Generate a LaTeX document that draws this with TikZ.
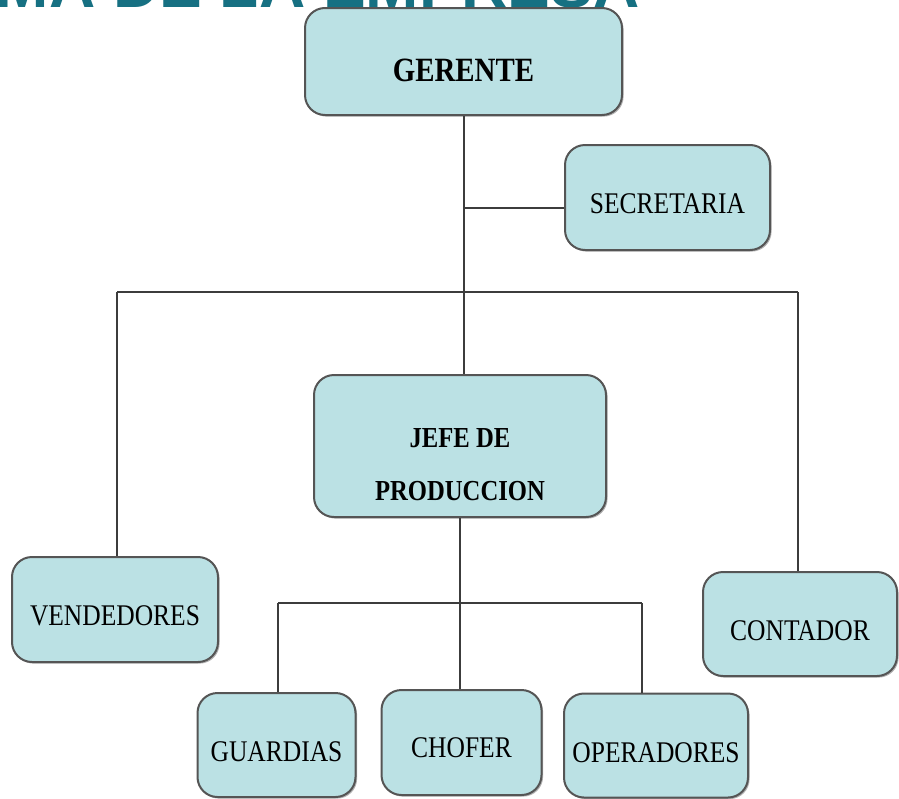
\documentclass[tikz,border=0pt]{standalone}
\usepackage{fontspec}
\setmainfont{Liberation Serif}[FakeStretch=0.85]
\newfontfamily\titlefont{Liberation Sans}
\usetikzlibrary{shadows,calc}
\definecolor{boxfill}{RGB}{187,225,228}
\definecolor{boxline}{RGB}{85,85,85}
\definecolor{linkline}{RGB}{60,60,60}
\definecolor{titleteal}{RGB}{22,112,130}
\begin{document}
\begin{tikzpicture}[x=0.5pt, y=-0.5pt,
    box/.style={draw=boxline, fill=boxfill, line width=1pt, rounded corners=10pt,
        drop shadow={shadow xshift=0.8pt, shadow yshift=-0.8pt, fill=black, opacity=0.3},
        inner sep=0pt, text depth=0pt, font=\fontsize{15}{18}\selectfont},
    boss/.style={box, font=\fontsize{17}{20}\selectfont\bfseries},
    link/.style={draw=linkline, line width=1pt}]
    % the page
    \clip (0, 0) rectangle (899, 798);
    \fill[white] (0, 0) rectangle (899, 798);

    % the title, cut off by the page
    \node[anchor=base east, inner sep=0pt, text=titleteal,
        font=\fontsize{32}{36}\selectfont\titlefont\bfseries]
        (title) at (640, 7) {ORGANIGRAMA DE LA EMPRESA};

    % the boxes
    \node[boss, minimum width=158.5pt, minimum height=53.5pt, text height=20pt]
        (ger) at (463.5, 61.5) {GERENTE};
    \node[box, minimum width=102.5pt, minimum height=52.5pt, text height=15.8pt]
        (sec) at (667.5, 197.5) {SECRETARIA};
    \node[box, minimum width=146pt, minimum height=71pt, align=center, text height=54pt,
        font=\fontsize{14.5}{26.5}\selectfont\bfseries]
        (jefe) at (460, 446) {JEFE DE\\PRODUCCION};
    \node[box, minimum width=103pt, minimum height=52.5pt, text height=15.8pt]
        (ven) at (115, 609.5) {VENDEDORES};
    \node[box, minimum width=97pt, minimum height=52pt, text height=16.8pt]
        (con) at (800, 624) {CONTADOR};
    \node[box, minimum width=79pt, minimum height=52pt, text height=16.8pt]
        (gua) at (276.5, 745) {GUARDIAS};
    \node[box, minimum width=80pt, minimum height=52.5pt, text height=15pt]
        (cho) at (461.5, 742.5) {CHOFER};
    \node[box, minimum width=92pt, minimum height=52pt, text height=16.8pt]
        (ope) at (656, 745.5) {OPERADORES};

    % upper connectors
    \coordinate (busl) at (117, 292);
    \coordinate (busr) at (798, 292);
    \coordinate (secin) at ($(sec.west)+(0, 10.5)$);
    \draw[link] (ger.south) -- (ger.south |- jefe.north);
    \draw[link] (ger.south |- secin) -- (secin);
    \draw[link] (busl) -- (busr);
    \draw[link] (busl) -- (busl |- ven.north);
    \draw[link] (busr) -- (busr |- con.north);

    % lower connectors
    \coordinate (lowl) at (278, 603);
    \coordinate (lowr) at (642, 603);
    \draw[link] (jefe.south) -- (jefe.south |- cho.north);
    \draw[link] (lowl) -- (lowr);
    \draw[link] (lowl) -- (lowl |- gua.north);
    \draw[link] (lowr) -- (lowr |- ope.north);
\end{tikzpicture}
\end{document}
